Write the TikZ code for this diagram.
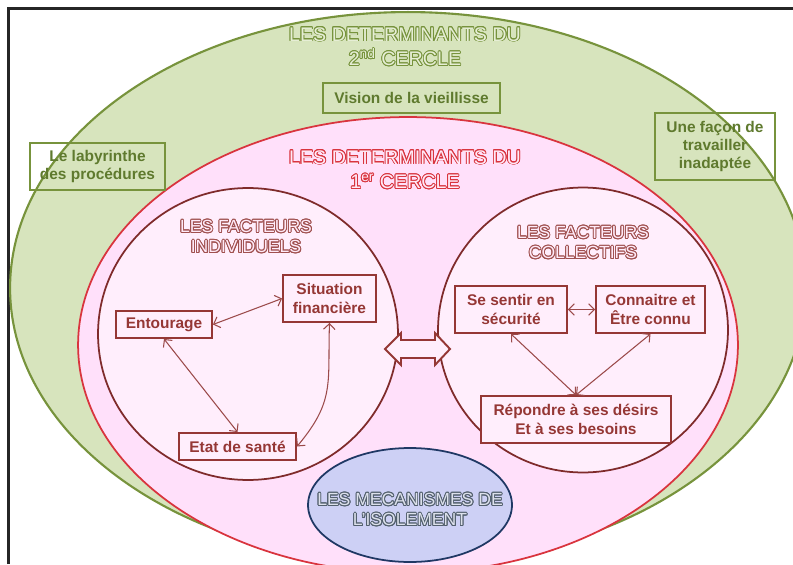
\documentclass[tikz,border=0pt]{standalone}
\usepackage{fontspec}
\setmainfont{Liberation Sans}
\usepackage[copies]{contour}
\contourlength{0.5pt}
\usetikzlibrary{arrows.meta}

\definecolor{greenbg}{HTML}{D7E4BD}
\definecolor{greenline}{HTML}{77933C}
\definecolor{greentext}{HTML}{5F7A2E}
\definecolor{greenpale}{HTML}{E6EED5}
\definecolor{pinkbg}{HTML}{FFE0FA}
\definecolor{pinkline}{HTML}{D9343E}
\definecolor{pinkpale}{HTML}{FFEAF8}
\definecolor{circlebg}{HTML}{FFEEFC}
\definecolor{brownline}{HTML}{7F2B2B}
\definecolor{boxred}{HTML}{953735}
\definecolor{arrowred}{HTML}{9B4A4A}
\definecolor{factline}{HTML}{A0504F}
\definecolor{bluebg}{HTML}{CDD0F5}
\definecolor{blueline}{HTML}{1F3864}
\definecolor{bluetitle}{HTML}{53606E}
\definecolor{bluepale}{HTML}{DDE1EC}

\begin{document}
\begin{tikzpicture}[x=0.02cm, y=-0.02cm,
    greenbox/.style={draw=greenline, line width=1.1pt, text=greentext,
      font=\bfseries\fontsize{8.8}{10.5}\selectfont, align=center, inner sep=0pt},
    redbox/.style={draw=boxred, fill=circlebg, line width=1.1pt, text=boxred,
      font=\bfseries\fontsize{8.8}{10.5}\selectfont, align=center, inner sep=0pt},
    link/.style={arrowred, line width=0.6pt,
      {Straight Barb[length=3.2pt,width=6.5pt]}-{Straight Barb[length=3.2pt,width=6.5pt]}},
    bigtitle/.style={font=\fontsize{11.2}{14}\selectfont, align=center},
    smalltitle/.style={font=\fontsize{10}{11.5}\selectfont, align=center}]

    % Page size and clipping of the shapes running off the bottom
    \useasboundingbox (0,0) rectangle (793,564);
    \clip (0,0) rectangle (793,564);

    % Frame line on the top and left side
    \draw[line width=1.3pt, black!85] (8.5,564) -- (8.5,8.5) -- (793,8.5);

    % Outer circle (2nd cercle)
    \draw[fill=greenbg, draw=greenline, line width=1.2pt]
      (408,288) ellipse [x radius=7.96cm, y radius=5.52cm];

    % Inner circle (1er cercle)
    \draw[fill=pinkbg, draw=pinkline, line width=1pt]
      (408,345) ellipse [x radius=6.6cm, y radius=4.56cm];

    % The two groups of factors
    \draw[fill=circlebg, draw=brownline, line width=1pt]
      (248,334) ellipse [x radius=3cm, y radius=2.92cm];
    \draw[fill=circlebg, draw=brownline, line width=1pt]
      (583,330) ellipse [x radius=2.9cm, y radius=2.85cm];

    % Isolation mechanisms
    \draw[fill=bluebg, draw=blueline, line width=1pt]
      (410,505) ellipse [x radius=2.04cm, y radius=1.14cm];

    % Double arrow between the two groups
    \draw[draw=boxred, fill=circlebg, line width=1.1pt]
      (385,349) -- (401,333) -- (401,340) -- (435,340) -- (435,333) -- (450,349)
      -- (435,365) -- (435,358) -- (401,358) -- (401,365) -- cycle;

    % Titles
    \node[bigtitle, text=greenpale] (t2) at (405,47)
      {\contour{greenline}{LES DETERMINANTS DU}\\\contour{greenline}{2\textsuperscript{nd} CERCLE}};
    \node[bigtitle, text=pinkpale] (t1) at (405,170)
      {\contour{pinkline}{LES DETERMINANTS DU}\\\contour{pinkline}{1\textsuperscript{er} CERCLE}};
    \node[smalltitle, text=pinkpale] (tind) at (246,237)
      {\contour{factline}{LES FACTEURS}\\\contour{factline}{INDIVIDUELS}};
    \node[smalltitle, text=pinkpale] (tcol) at (583,243)
      {\contour{factline}{LES FACTEURS}\\\contour{factline}{COLLECTIFS}};
    \node[smalltitle, text=bluepale] (tmec) at (410,510)
      {\contour{bluetitle}{LES MECANISMES DE}\\\contour{bluetitle}{L'ISOLEMENT}};

    % Boxes of the 2nd cercle
    \node[greenbox, minimum width=3.54cm, minimum height=0.6cm] (vision) at (411.5,98)
      {Vision de la vieillisse};
    \node[greenbox, minimum width=2.7cm, minimum height=0.94cm] (laby) at (97.5,166.5)
      {Le labyrinthe\\des procédures};
    \node[greenbox, minimum width=2.4cm, minimum height=1.34cm] (facon) at (715,146.5)
      {Une façon de\\travailler\\inadaptée};

    % Individual factors
    \node[redbox, minimum width=1.92cm, minimum height=0.54cm] (ent) at (164,324.5)
      {Entourage};
    \node[redbox, minimum width=1.86cm, minimum height=0.94cm] (sit) at (329.5,298.5)
      {Situation\\financière};
    \node[redbox, minimum width=2.34cm, minimum height=0.54cm] (etat) at (237.5,446.5)
      {Etat de santé};

    % Collective factors
    \node[redbox, minimum width=2.24cm, minimum height=0.94cm] (secu) at (511,309.5)
      {Se sentir en\\sécurité};
    \node[redbox, minimum width=2.18cm, minimum height=0.94cm] (conn) at (650.5,309.5)
      {Connaitre et\\Être connu};
    \node[redbox, minimum width=3.8cm, minimum height=0.94cm] (rep) at (576,419.5)
      {Répondre à ses désirs\\Et à ses besoins};

    % Links between the factors
    \draw[link] (ent.east) -- (sit.west);
    \draw[link] (ent.south) -- (etat.north);
    \draw[link] (sit.south) to[out=-92, in=50, looseness=1.2] (etat.east);
    \draw[link] (secu.east) -- (conn.west);
    \draw[link] (secu.south) -- (rep.north);
    \draw[link] (conn.south) -- (rep.north);

\end{tikzpicture}
\end{document}
